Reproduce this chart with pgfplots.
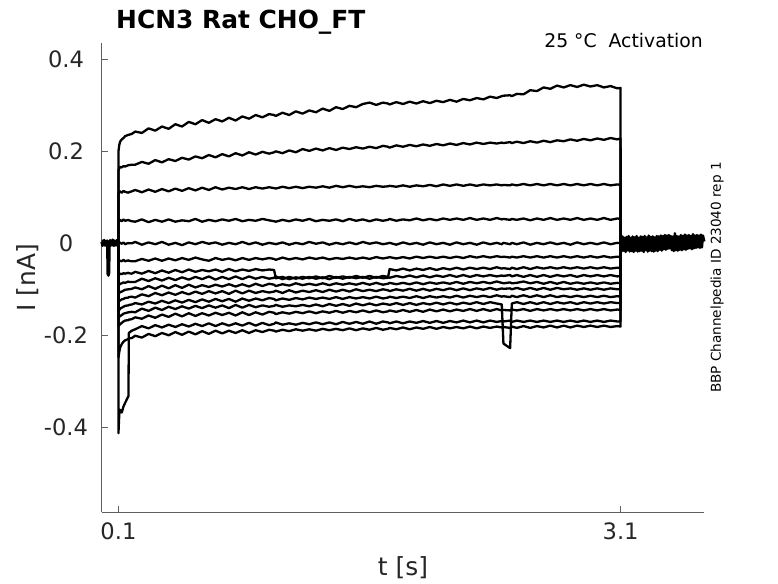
\documentclass[border=0pt]{standalone}
\usepackage{fontspec}
\setmainfont{DejaVu Sans}
\usepackage{pgfplots}
\usepackage{pgfplotstable}
\pgfplotsset{compat=1.18}
\definecolor{axisgray}{RGB}{95,95,95}
\definecolor{txtgray}{RGB}{38,38,38}
\tikzset{trace/.style={black, line width=2.3pt, line join=round, no markers}}

\pgfplotstableread{
t a b c d e f g h i j k l m n o
0.100 0 0 0 0 0 0 0 0 0 0 0 0 0 0 0
0.1001 0.200 0.158 0.108 0.046 -0.002 -0.040 -0.070 -0.092 -0.110 -0.128 -0.147 -0.163 -0.180 -0.413 -0.248
0.105 0.214 0.163 0.111 0.049 0.002 -0.037 -0.068 -0.090 -0.108 -0.126 -0.145 -0.160 -0.178 -0.372 -0.236
0.110 0.221 0.166 0.113 0.051 0.001 -0.038 -0.066 -0.088 -0.106 -0.124 -0.142 -0.158 -0.176 -0.362 -0.227
0.120 0.226 0.165 0.110 0.048 -0.001 -0.039 -0.067 -0.087 -0.105 -0.122 -0.140 -0.156 -0.173 -0.368 -0.219
0.130 0.229 0.168 0.114 0.052 0.002 -0.036 -0.065 -0.085 -0.103 -0.121 -0.138 -0.153 -0.170 -0.355 -0.214
0.140 0.233 0.167 0.112 0.049 -0.002 -0.039 -0.066 -0.086 -0.101 -0.119 -0.136 -0.152 -0.168 -0.347 -0.211
0.160 0.236 0.170 0.110 0.051 0.001 -0.037 -0.064 -0.083 -0.100 -0.118 -0.135 -0.150 -0.167 -0.332 -0.208
0.162 0.236 0.170 0.111 0.050 0.000 -0.038 -0.065 -0.084 -0.100 -0.117 -0.134 -0.150 -0.166 -0.195 -0.207
0.180 0.238 0.171 0.113 0.048 0.000 -0.039 -0.066 -0.084 -0.099 -0.116 -0.133 -0.149 -0.165 -0.190 -0.206
0.20 0.243 0.171 0.116 0.047 0.003 -0.039 -0.062 -0.084 -0.096 -0.118 -0.130 -0.150 -0.161 -0.187 -0.201
0.24 0.240 0.177 0.111 0.052 -0.003 -0.034 -0.066 -0.077 -0.100 -0.111 -0.133 -0.142 -0.164 -0.180 -0.205
0.28 0.250 0.173 0.117 0.046 0.002 -0.038 -0.060 -0.082 -0.093 -0.115 -0.127 -0.147 -0.157 -0.185 -0.197
0.32 0.245 0.181 0.112 0.051 -0.002 -0.033 -0.065 -0.076 -0.099 -0.108 -0.131 -0.140 -0.162 -0.178 -0.202
0.36 0.254 0.176 0.118 0.047 0.003 -0.038 -0.059 -0.081 -0.092 -0.113 -0.125 -0.145 -0.155 -0.183 -0.195
0.40 0.249 0.183 0.113 0.052 -0.003 -0.033 -0.064 -0.075 -0.098 -0.107 -0.130 -0.138 -0.160 -0.177 -0.200
0.44 0.259 0.179 0.119 0.047 0.001 -0.037 -0.058 -0.080 -0.091 -0.112 -0.124 -0.143 -0.153 -0.182 -0.193
0.48 0.254 0.186 0.114 0.050 -0.004 -0.032 -0.063 -0.074 -0.097 -0.106 -0.129 -0.137 -0.159 -0.176 -0.199
0.52 0.264 0.182 0.120 0.048 0.002 -0.036 -0.057 -0.079 -0.090 -0.111 -0.123 -0.142 -0.152 -0.181 -0.192
0.56 0.259 0.189 0.115 0.053 -0.002 -0.031 -0.062 -0.073 -0.096 -0.105 -0.128 -0.136 -0.158 -0.175 -0.198
0.60 0.268 0.185 0.121 0.047 0.003 -0.035 -0.058 -0.078 -0.091 -0.110 -0.122 -0.141 -0.152 -0.180 -0.191
0.64 0.262 0.192 0.116 0.051 -0.001 -0.038 -0.061 -0.072 -0.095 -0.104 -0.127 -0.135 -0.157 -0.174 -0.197
0.68 0.270 0.187 0.122 0.048 0.002 -0.032 -0.057 -0.079 -0.090 -0.109 -0.121 -0.140 -0.151 -0.180 -0.190
0.72 0.265 0.194 0.117 0.052 -0.003 -0.036 -0.062 -0.073 -0.094 -0.104 -0.126 -0.135 -0.156 -0.174 -0.196
0.76 0.273 0.189 0.121 0.049 0.001 -0.033 -0.056 -0.078 -0.089 -0.110 -0.121 -0.141 -0.151 -0.179 -0.190
0.80 0.267 0.196 0.118 0.053 -0.002 -0.037 -0.061 -0.072 -0.094 -0.103 -0.127 -0.134 -0.157 -0.174 -0.195
0.84 0.276 0.191 0.122 0.048 0.003 -0.032 -0.057 -0.078 -0.089 -0.109 -0.120 -0.140 -0.150 -0.179 -0.189
0.88 0.271 0.198 0.118 0.051 -0.002 -0.036 -0.060 -0.072 -0.094 -0.103 -0.125 -0.134 -0.156 -0.173 -0.195
0.92 0.279 0.193 0.122 0.049 0.002 -0.032 -0.056 -0.077 -0.088 -0.108 -0.120 -0.139 -0.150 -0.179 -0.189
0.96 0.274 0.199 0.119 0.053 -0.003 -0.035 -0.059 -0.073 -0.093 -0.104 -0.124 -0.135 -0.155 -0.173 -0.193
1.00 0.281 0.195 0.122 0.050 0.001 -0.032 -0.057 -0.077 -0.088 -0.107 -0.119 -0.138 -0.149 -0.178 -0.188
1.03 0.279 0.198 0.120 0.048 -0.001 -0.034 -0.058 -0.075 -0.090 -0.105 -0.121 -0.136 -0.151 -0.175 -0.190
1.04 0.277 0.200 0.119 0.047 -0.002 -0.036 -0.076 -0.072 -0.093 -0.103 -0.124 -0.134 -0.154 -0.172 -0.192
1.08 0.284 0.196 0.123 0.051 0.002 -0.031 -0.073 -0.078 -0.089 -0.108 -0.120 -0.138 -0.150 -0.177 -0.188
1.12 0.279 0.202 0.120 0.048 -0.003 -0.035 -0.078 -0.073 -0.092 -0.102 -0.123 -0.135 -0.153 -0.174 -0.191
1.16 0.287 0.198 0.123 0.052 0.001 -0.032 -0.074 -0.077 -0.087 -0.107 -0.119 -0.137 -0.149 -0.177 -0.187
1.20 0.282 0.205 0.120 0.049 -0.002 -0.035 -0.077 -0.073 -0.091 -0.103 -0.122 -0.134 -0.152 -0.173 -0.190
1.24 0.289 0.201 0.123 0.053 0.003 -0.031 -0.073 -0.076 -0.088 -0.106 -0.118 -0.137 -0.148 -0.176 -0.187
1.28 0.285 0.206 0.121 0.048 -0.001 -0.034 -0.077 -0.072 -0.091 -0.102 -0.121 -0.133 -0.152 -0.172 -0.190
1.32 0.293 0.202 0.124 0.051 0.002 -0.031 -0.074 -0.076 -0.087 -0.106 -0.118 -0.137 -0.148 -0.176 -0.186
1.36 0.288 0.207 0.121 0.049 -0.003 -0.035 -0.078 -0.071 -0.091 -0.101 -0.121 -0.132 -0.151 -0.172 -0.189
1.40 0.296 0.203 0.125 0.052 0.001 -0.032 -0.073 -0.075 -0.087 -0.105 -0.117 -0.136 -0.147 -0.176 -0.186
1.44 0.292 0.208 0.122 0.048 -0.002 -0.034 -0.077 -0.072 -0.090 -0.101 -0.121 -0.132 -0.151 -0.171 -0.189
1.48 0.299 0.205 0.125 0.053 0.002 -0.031 -0.073 -0.075 -0.087 -0.105 -0.117 -0.136 -0.147 -0.175 -0.185
1.52 0.296 0.209 0.122 0.049 -0.002 -0.034 -0.076 -0.071 -0.090 -0.100 -0.120 -0.131 -0.150 -0.171 -0.189
1.56 0.303 0.206 0.124 0.052 0.003 -0.031 -0.073 -0.075 -0.086 -0.104 -0.117 -0.135 -0.146 -0.175 -0.185
1.60 0.306 0.210 0.122 0.048 -0.001 -0.034 -0.077 -0.071 -0.090 -0.101 -0.120 -0.131 -0.150 -0.170 -0.188
1.64 0.301 0.207 0.125 0.052 0.002 -0.030 -0.073 -0.075 -0.086 -0.104 -0.116 -0.135 -0.146 -0.175 -0.184
1.68 0.306 0.212 0.123 0.049 -0.002 -0.033 -0.076 -0.071 -0.090 -0.100 -0.120 -0.131 -0.150 -0.170 -0.188
1.71 0.304 0.210 0.124 0.051 0.000 -0.031 -0.075 -0.073 -0.088 -0.102 -0.118 -0.133 -0.148 -0.172 -0.186
1.72 0.302 0.208 0.125 0.053 0.001 -0.030 -0.056 -0.075 -0.086 -0.104 -0.116 -0.134 -0.146 -0.174 -0.184
1.76 0.307 0.213 0.123 0.049 -0.003 -0.033 -0.059 -0.071 -0.089 -0.100 -0.119 -0.130 -0.149 -0.170 -0.187
1.80 0.303 0.210 0.126 0.052 0.002 -0.030 -0.055 -0.074 -0.086 -0.103 -0.116 -0.134 -0.145 -0.174 -0.183
1.84 0.308 0.214 0.123 0.050 -0.002 -0.033 -0.059 -0.070 -0.089 -0.099 -0.119 -0.130 -0.149 -0.170 -0.187
1.88 0.304 0.211 0.126 0.054 0.001 -0.029 -0.055 -0.074 -0.085 -0.103 -0.115 -0.134 -0.145 -0.173 -0.183
1.92 0.309 0.215 0.124 0.050 -0.003 -0.032 -0.058 -0.070 -0.089 -0.099 -0.119 -0.130 -0.149 -0.169 -0.186
1.96 0.305 0.212 0.127 0.053 0.002 -0.029 -0.054 -0.074 -0.085 -0.103 -0.115 -0.133 -0.144 -0.173 -0.182
2.00 0.310 0.216 0.124 0.050 -0.002 -0.032 -0.058 -0.070 -0.088 -0.099 -0.118 -0.129 -0.148 -0.169 -0.186
2.04 0.307 0.213 0.128 0.054 0.001 -0.029 -0.054 -0.073 -0.085 -0.102 -0.115 -0.133 -0.144 -0.173 -0.182
2.08 0.312 0.217 0.125 0.051 -0.003 -0.032 -0.057 -0.069 -0.088 -0.098 -0.118 -0.129 -0.148 -0.169 -0.185
2.12 0.308 0.214 0.128 0.054 0.002 -0.029 -0.053 -0.073 -0.084 -0.102 -0.114 -0.133 -0.144 -0.172 -0.182
2.16 0.314 0.218 0.125 0.051 -0.002 -0.032 -0.057 -0.069 -0.088 -0.098 -0.118 -0.129 -0.147 -0.168 -0.185
2.20 0.311 0.215 0.128 0.055 0.001 -0.028 -0.053 -0.073 -0.084 -0.102 -0.114 -0.132 -0.143 -0.172 -0.181
2.24 0.316 0.219 0.125 0.051 -0.003 -0.031 -0.056 -0.069 -0.087 -0.098 -0.117 -0.128 -0.147 -0.168 -0.185
2.28 0.313 0.216 0.128 0.054 0.002 -0.028 -0.053 -0.072 -0.084 -0.101 -0.114 -0.132 -0.143 -0.172 -0.181
2.32 0.319 0.219 0.126 0.051 -0.002 -0.031 -0.056 -0.069 -0.087 -0.097 -0.117 -0.128 -0.147 -0.168 -0.184
2.36 0.316 0.217 0.128 0.055 0.001 -0.028 -0.052 -0.072 -0.083 -0.101 -0.113 -0.131 -0.143 -0.171 -0.181
2.39 0.320 0.219 0.126 0.052 -0.002 -0.030 -0.055 -0.070 -0.086 -0.098 -0.116 -0.133 -0.146 -0.169 -0.183
2.40 0.321 0.218 0.127 0.053 0.001 -0.029 -0.054 -0.071 -0.087 -0.099 -0.115 -0.218 -0.145 -0.170 -0.182
2.44 0.322 0.220 0.126 0.051 -0.002 -0.031 -0.056 -0.069 -0.085 -0.098 -0.117 -0.228 -0.146 -0.168 -0.184
2.45 0.320 0.218 0.128 0.053 0.001 -0.029 -0.053 -0.072 -0.087 -0.100 -0.114 -0.131 -0.144 -0.171 -0.181
2.48 0.325 0.221 0.126 0.051 -0.002 -0.031 -0.056 -0.069 -0.086 -0.097 -0.117 -0.128 -0.146 -0.168 -0.184
2.52 0.324 0.218 0.129 0.054 0.002 -0.028 -0.052 -0.073 -0.083 -0.101 -0.113 -0.132 -0.143 -0.171 -0.180
2.56 0.333 0.222 0.126 0.050 -0.003 -0.031 -0.056 -0.069 -0.087 -0.097 -0.117 -0.128 -0.147 -0.168 -0.184
2.60 0.331 0.219 0.129 0.054 0.001 -0.028 -0.052 -0.073 -0.084 -0.101 -0.113 -0.132 -0.143 -0.171 -0.180
2.64 0.339 0.223 0.126 0.051 -0.002 -0.031 -0.055 -0.069 -0.088 -0.097 -0.117 -0.128 -0.146 -0.168 -0.183
2.68 0.336 0.220 0.129 0.055 0.002 -0.028 -0.052 -0.073 -0.084 -0.101 -0.113 -0.132 -0.143 -0.171 -0.179
2.72 0.343 0.224 0.126 0.051 -0.002 -0.031 -0.055 -0.069 -0.088 -0.097 -0.117 -0.128 -0.146 -0.168 -0.183
2.76 0.339 0.222 0.129 0.054 0.001 -0.028 -0.052 -0.072 -0.084 -0.100 -0.114 -0.131 -0.143 -0.171 -0.179
2.80 0.344 0.226 0.126 0.051 -0.003 -0.031 -0.055 -0.069 -0.088 -0.098 -0.117 -0.128 -0.146 -0.168 -0.183
2.84 0.340 0.223 0.129 0.055 0.002 -0.028 -0.052 -0.073 -0.085 -0.101 -0.114 -0.132 -0.143 -0.171 -0.179
2.88 0.345 0.227 0.126 0.051 -0.002 -0.031 -0.055 -0.069 -0.088 -0.098 -0.117 -0.128 -0.146 -0.168 -0.182
2.92 0.341 0.224 0.129 0.054 0.001 -0.028 -0.052 -0.072 -0.085 -0.101 -0.114 -0.131 -0.143 -0.171 -0.179
2.96 0.344 0.228 0.126 0.051 -0.002 -0.031 -0.055 -0.069 -0.088 -0.098 -0.117 -0.128 -0.146 -0.168 -0.182
3.00 0.339 0.225 0.129 0.055 0.002 -0.028 -0.052 -0.072 -0.085 -0.101 -0.114 -0.131 -0.143 -0.171 -0.179
3.04 0.342 0.229 0.126 0.051 -0.002 -0.031 -0.055 -0.069 -0.088 -0.098 -0.117 -0.128 -0.146 -0.168 -0.182
3.08 0.337 0.226 0.128 0.054 0.001 -0.029 -0.053 -0.072 -0.086 -0.100 -0.115 -0.130 -0.144 -0.170 -0.180
3.0999 0.338 0.228 0.127 0.053 0.000 -0.030 -0.054 -0.071 -0.087 -0.100 -0.116 -0.130 -0.145 -0.170 -0.181
3.100 0 0 0 0 0 0 0 0 0 0 0 0 0 0 0
}\traces

\begin{document}
\begin{tikzpicture}
\path[use as bounding box] (0,0) rectangle (778pt,583pt);
\begin{axis}[
  at={(101.7pt,70.7pt)}, anchor=south west,
  scale only axis, width=602.6pt, height=469pt,
  xmin=0, xmax=3.6, ymin=-0.585, ymax=0.435,
  axis x line*=bottom, axis y line*=left,
  axis line style={draw=axisgray, line width=0.8pt, -},
  xtick={0.1,3.1}, xticklabels={0.1,3.1},
  ytick={-0.4,-0.2,0,0.2,0.4}, yticklabels={-0.4,-0.2,0,0.2,0.4},
  tick align=inside, major tick length=6pt,
  tick style={draw=axisgray, line width=0.8pt},
  /pgf/number format/assume math mode=true,
  ticklabel style={font=\fontsize{22.6}{26}\selectfont, text=txtgray, inner sep=0pt},
  xticklabel style={anchor=north, yshift=-10.7pt},
  yticklabel style={anchor=center, xshift=-35.7pt},
  xlabel={t [s]}, ylabel={I [nA]},
  label style={font=\fontsize{24.9}{30}\selectfont, text=txtgray, inner sep=0pt},
  xlabel style={at={(axis description cs:0.5,-0.1188)}, anchor=center},
  ylabel style={at={(axis description cs:-0.1231,0.5)}, anchor=center},
  clip=false,
]
\addplot[trace] table[x=t, y=a] {\traces};
\addplot[trace] table[x=t, y=b] {\traces};
\addplot[trace] table[x=t, y=c] {\traces};
\addplot[trace] table[x=t, y=d] {\traces};
\addplot[trace] table[x=t, y=e] {\traces};
\addplot[trace] table[x=t, y=f] {\traces};
\addplot[trace] table[x=t, y=g] {\traces};
\addplot[trace] table[x=t, y=h] {\traces};
\addplot[trace] table[x=t, y=i] {\traces};
\addplot[trace] table[x=t, y=j] {\traces};
\addplot[trace] table[x=t, y=k] {\traces};
\addplot[trace] table[x=t, y=l] {\traces};
\addplot[trace] table[x=t, y=m] {\traces};
\addplot[trace] table[x=t, y=n] {\traces};
\addplot[trace] table[x=t, y=o] {\traces};
% holding period before the step
\addplot[trace, line width=2.6pt] coordinates {
(0,0.003) (0.004,-0.005) (0.008,0.006) (0.012,-0.004) (0.016,0.007) (0.020,-0.005)
(0.024,0.004) (0.028,-0.004) (0.032,0.006) (0.034,-0.004) (0.036,-0.066) (0.040,-0.070)
(0.044,-0.064) (0.046,-0.003) (0.050,0.007) (0.054,-0.005) (0.058,0.005) (0.062,-0.004)
(0.066,0.008) (0.070,-0.005) (0.074,0.006) (0.078,-0.005) (0.082,0.004) (0.086,-0.004)
(0.090,0.007) (0.094,-0.005) (0.098,0.005) (0.100,0)
};
% tail after the step
\addplot[trace, line width=2.4pt] coordinates {
(3.100,0.014) (3.106,-0.018) (3.112,0.015) (3.118,-0.016) (3.124,0.012) (3.130,-0.019)
(3.136,0.014) (3.142,-0.015) (3.148,0.016) (3.154,-0.018) (3.160,0.012) (3.166,-0.017)
(3.172,0.015) (3.178,-0.019) (3.184,0.013) (3.190,-0.016) (3.196,0.016) (3.202,-0.018)
(3.208,0.012) (3.214,-0.017) (3.220,0.015) (3.226,-0.016) (3.232,0.014) (3.238,-0.019)
(3.244,0.016) (3.250,-0.015) (3.256,0.013) (3.262,-0.018) (3.268,0.017) (3.274,-0.016)
(3.280,0.014) (3.286,-0.017) (3.292,0.015) (3.298,-0.018) (3.304,0.013) (3.310,-0.016)
(3.316,0.016) (3.322,-0.017) (3.328,0.015) (3.334,-0.014) (3.340,0.017) (3.346,-0.016)
(3.352,0.016) (3.358,-0.013) (3.364,0.018) (3.370,-0.014) (3.376,0.017) (3.382,-0.012)
(3.388,0.018) (3.394,-0.011) (3.400,0.016) (3.406,-0.015) (3.412,0.015) (3.418,-0.017)
(3.424,0.022) (3.430,-0.015) (3.436,0.016) (3.442,-0.016) (3.448,0.015) (3.454,-0.014)
(3.460,0.018) (3.466,-0.015) (3.472,0.016) (3.478,-0.013) (3.484,0.019) (3.490,-0.014)
(3.496,0.017) (3.502,-0.012) (3.508,0.018) (3.514,-0.011) (3.520,0.016) (3.526,-0.013)
(3.532,0.020) (3.538,-0.011) (3.544,0.017) (3.550,-0.010) (3.556,0.018) (3.562,-0.009)
(3.568,0.017) (3.574,-0.010) (3.580,0.019) (3.586,-0.009) (3.592,0.017) (3.600,0.004)
};
\end{axis}
\node[anchor=base west, inner sep=0pt, font=\fontsize{24.9}{30}\selectfont\bfseries, text=black]
  at (116pt,554pt) {HCN3 Rat CHO\_FT};
\node[anchor=base east, inner sep=0pt, font=\fontsize{18.8}{22}\selectfont, text=black]
  at (703pt,535pt) {25 °C\ \ Activation};
\node[rotate=90, anchor=center, inner sep=0pt, font=\fontsize{13.6}{16}\selectfont, text=black]
  at (717pt,305.5pt) {BBP Channelpedia ID 23040 rep 1};
\end{tikzpicture}
\end{document}
